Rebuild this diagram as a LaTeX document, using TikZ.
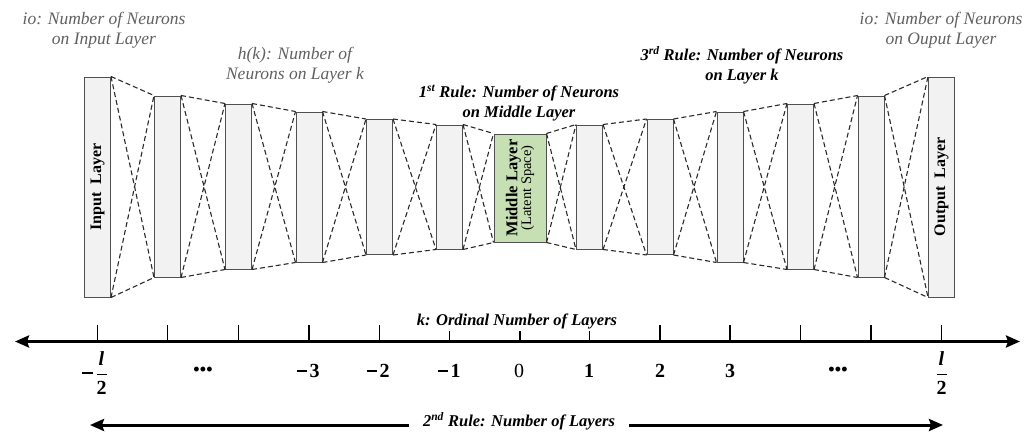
\documentclass[tikz,border=0pt]{standalone}
\usepackage{fontspec}
\setmainfont{Liberation Serif}
\usepackage{amsmath}
\usetikzlibrary{arrows.meta}
\definecolor{boxgray}{HTML}{505050}
\definecolor{boxfill}{HTML}{F2F2F2}
\definecolor{midfill}{HTML}{C6E0B4}
\definecolor{txtgray}{HTML}{606060}
\definecolor{linecol}{HTML}{2A2A2A}
\newcommand{\myfrac}[2]{$\genfrac{}{}{1.2pt}{0}{\text{#1}}{\text{#2}}$}
\newcommand{\mydots}{{\fontsize{18}{18}\selectfont\textbullet\hspace{0.3pt}\textbullet\hspace{0.3pt}\textbullet}}
\newcommand{\mminus}{\rule[6pt]{10.5pt}{1.8pt}\hspace{2.5pt}}
\tikzset{
  layer/.style={draw=boxgray, fill=boxfill, line width=1pt, minimum width=26pt, inner sep=0pt},
  midlayer/.style={draw=boxgray, fill=midfill, line width=1pt, minimum width=52pt, minimum height=108pt, inner sep=0pt},
  conn/.style={draw=linecol, line width=1.1pt, dash pattern=on 5pt off 3pt},
  graytext/.style={text=txtgray, font=\fontsize{17.5}{20}\selectfont\itshape, align=center, inner sep=0pt},
  ruletext/.style={text=black, font=\fontsize{16.5}{20}\selectfont\bfseries\itshape, align=center, inner sep=0pt},
  layertext/.style={rotate=90, font=\fontsize{16}{18}\selectfont\bfseries, inner sep=0pt},
  axisline/.style={line width=3pt, {Stealth[length=14pt,width=12pt,inset=2pt]}-{Stealth[length=14pt,width=12pt,inset=2pt]}},
  tickline/.style={line width=1.5pt},
  numlab/.style={font=\fontsize{20}{20}\selectfont\bfseries, inner sep=0pt},
  numplain/.style={font=\fontsize{20}{20}\selectfont, inner sep=0pt},
}
\begin{document}
\begin{tikzpicture}[x=1pt,y=-1pt]
\useasboundingbox (0,0) rectangle (1032,436);
% layers
\node[layer, minimum height=220pt] (L0) at (97.5,187) {};
\node[layer, minimum height=181pt] (L1) at (167.5,186.5) {};
\node[layer, minimum height=165pt] (L2) at (238.5,186.5) {};
\node[layer, minimum height=150pt] (L3) at (309,187) {};
\node[layer, minimum height=135pt] (L4) at (379.5,187) {};
\node[layer, minimum height=124pt] (L5) at (449.5,187) {};
\node[midlayer] (L6) at (520,188) {};
\node[layer, minimum height=124pt] (L7) at (589.5,187) {};
\node[layer, minimum height=135pt] (L8) at (660,187) {};
\node[layer, minimum height=150pt] (L9) at (730,187) {};
\node[layer, minimum height=165pt] (L10) at (800.5,186.5) {};
\node[layer, minimum height=181pt] (L11) at (871,186.5) {};
\node[layer, minimum height=220pt] (L12) at (941.5,187) {};
% layer texts
\node[layertext] (tin) at (L0) {Input\ \ Layer};
\node[layertext] (tout) at (L12) {Output\ \ Layer};
\node[rotate=90, align=center, inner sep=0pt] (tmid) at (L6) {{\fontsize{16.5}{18}\selectfont\bfseries Middle Layer}\\[-1pt]{\fontsize{14.5}{16}\selectfont (Latent Space)}};
% connectors
\foreach \i in {0,...,11}{
  \pgfmathtruncatemacro{\j}{\i+1}
  \draw[conn] (L\i.north east) -- (L\j.north west);
  \draw[conn] (L\i.south east) -- (L\j.south west);
  \draw[conn] (L\i.north east) -- (L\j.south west);
  \draw[conn] (L\i.south east) -- (L\j.north west);
}
% top texts
\node[graytext] (io1) at (104,30) {io: Number of Neurons\\on Input Layer};
\node[graytext] (hk) at (295,65) {h(k): Number of\\Neurons on Layer k};
\node[ruletext] (r1) at (519,103) {1\textsuperscript{st} Rule: Number of Neurons\\on Middle Layer};
\node[ruletext] (r3) at (742,65) {3\textsuperscript{rd} Rule: Number of Neurons\\on Layer k};
\node[graytext] (io2) at (941,30) {io: Number of Neurons\\on Ouput Layer};
% axis
\coordinate (AL) at (15,341.5);
\coordinate (AR) at (1020,341.5);
\draw[axisline] (AL) -- (AR);
\foreach \x in {97.5,167.5,238.5,309,379.5,449.5,520,589.5,660,730,800.5,871,941.5}{
  \draw[tickline] (\x,325) -- (\x,341.5);
}
\node[ruletext, fill=white, inner xsep=8pt, inner ysep=2pt] (klab) at (517,321) {k: Ordinal Number of Layers};
% numbers
\node[numlab] (nm6) at (95,373) {\mminus\myfrac{\itshape l}{2}};
\node[numlab] (nm5) at (203,371) {\mydots};
\node[numlab] (nm3) at (308,371) {\mminus 3};
\node[numlab] (nm2) at (378,371) {\mminus 2};
\node[numlab] (nm1) at (449,371) {\mminus 1};
\node[numplain] (n0) at (519,371) {0};
\node[numlab] (n1) at (589,371) {1};
\node[numlab] (n2) at (660,371) {2};
\node[numlab] (n3) at (730,371) {3};
\node[numlab] (n5) at (838,371) {\mydots};
\node[numlab] (n6) at (941.5,373) {\myfrac{\itshape l}{2}};
% bottom arrow
\coordinate (BL) at (90,425);
\coordinate (BR) at (943,425);
\draw[axisline] (BL) -- (BR);
\node[ruletext, fill=white, inner xsep=14pt, inner ysep=3pt] (r2) at (519,421) {2\textsuperscript{nd} Rule: Number of Layers};
\end{tikzpicture}
\end{document}
